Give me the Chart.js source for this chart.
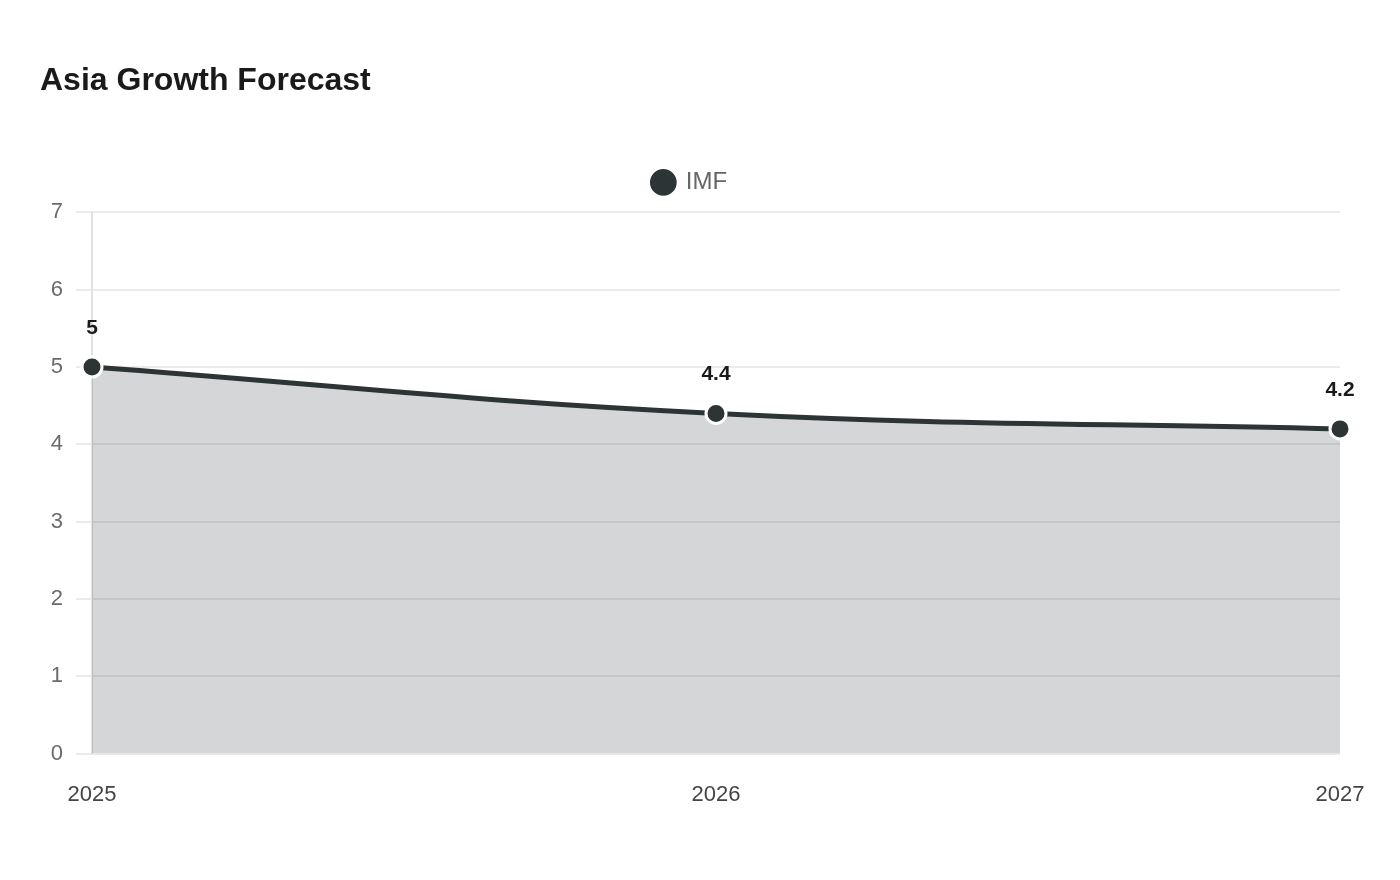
<!DOCTYPE html>
<html lang="en">
<head>
  <meta charset="UTF-8" />
  <title>Asia Growth Forecast</title>
  <script src="https://cdn.jsdelivr.net/npm/chart.js"></script>
  <style>
    html, body {
      margin: 0;
      padding: 0;
      background: #fff;
    }
    .chart-box {
      width: 1400px;
      height: 880px;
    }
  </style>
</head>
<body>
  <div class="chart-box"><canvas id="growthChart"></canvas></div>

  <script>
    // dados
    const years = ['2025', '2026', '2027'];
    const imfGrowth = [5, 4.4, 4.2];
    const seriesName = 'IMF';
    const chartTitle = 'Asia Growth Forecast';

    const lineColor = '#2d3436';

    Chart.defaults.font.family = "'Liberation Sans', Arial, sans-serif";

    // rótulos acima dos pontos (sem plugin externo)
    const pointLabels = {
      id: 'pointLabels',
      afterDatasetsDraw(chart) {
        const ctx = chart.ctx;
        const meta = chart.getDatasetMeta(0);
        ctx.save();
        ctx.font = "bold 21px 'Liberation Sans', Arial, sans-serif";
        ctx.fillStyle = '#1a1a1a';
        ctx.textAlign = 'center';
        ctx.textBaseline = 'middle';
        meta.data.forEach((pt, i) => {
          ctx.fillText(String(chart.data.datasets[0].data[i]), pt.x, pt.y - 39);
        });
        ctx.restore();
      }
    };

    // espaço extra entre a legenda e o gráfico
    const legendGap = {
      id: 'legendGap',
      beforeInit(chart) {
        const fitOriginal = chart.legend.fit;
        chart.legend.fit = function () {
          fitOriginal.bind(chart.legend)();
          this.height += 8;
        };
      }
    };

    new Chart(document.getElementById('growthChart'), {
      type: 'line',
      data: {
        labels: years,
        datasets: [{
          label: seriesName,
          data: imfGrowth,
          borderColor: lineColor,
          backgroundColor: 'rgba(45, 52, 54, 0.2)',
          borderWidth: 5,
          fill: true,
          tension: 0.4,
          pointRadius: 10,
          pointHoverRadius: 10,
          pointBackgroundColor: lineColor,
          pointBorderColor: '#fff',
          pointBorderWidth: 3
        }]
      },
      options: {
        responsive: true,
        maintainAspectRatio: false,
        animation: false,
        layout: {
          padding: { left: 40, right: 60, top: 0, bottom: 44 }
        },
        plugins: {
          title: {
            display: true,
            text: chartTitle,
            align: 'start',
            color: '#1a1a1a',
            font: { size: 32, weight: 'bold' },
            padding: { top: 62, bottom: 49 }
          },
          legend: {
            display: true,
            labels: {
              usePointStyle: true,
              pointStyle: 'circle',
              boxWidth: 21,
              boxHeight: 21,
              color: '#666',
              font: { size: 24 },
              padding: 21
            }
          },
          tooltip: { enabled: false }
        },
        scales: {
          x: {
            grid: { display: false, drawTicks: false },
            border: { display: false },
            ticks: {
              color: '#444',
              font: { size: 22 },
              padding: 28,
              maxRotation: 0
            }
          },
          y: {
            min: 0,
            max: 7,
            afterFit: scale => { scale.width = 52; },
            grid: {
              color: '#ebebeb',
              lineWidth: 2,
              tickLength: 16
            },
            border: { color: '#e2e2e2', width: 2 },
            ticks: {
              stepSize: 1,
              color: '#6b6b6b',
              font: { size: 22 },
              padding: 13
            }
          }
        }
      },
      plugins: [pointLabels, legendGap]
    });
  </script>
</body>
</html>
